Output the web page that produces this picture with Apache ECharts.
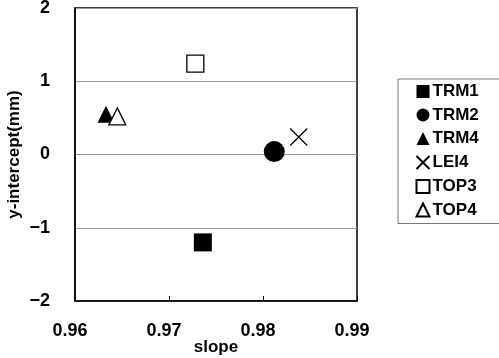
<!DOCTYPE html>
<html>
<head>
<meta charset="utf-8">
<script src="https://cdn.jsdelivr.net/npm/echarts@6/dist/echarts.min.js"></script>
<style>
  html, body { margin: 0; padding: 0; background: #fff; }
  #chart { width: 499px; height: 358px; }
</style>
</head>
<body>
<div id="chart"></div>
<script>
// 数据
var names = ["TRM1", "TRM2", "TRM4", "LEI4", "TOP3", "TOP4"];
var slopes = [0.9736, 0.9812, 0.9633, 0.9838, 0.9728, 0.9645];
var intercepts = [-1.2, 0.04, 0.55, 0.24, 1.24, 0.52];
var xTicks = [0.96, 0.97, 0.98, 0.99];
var yTicks = [-2, -1, 0, 1, 2];

var crossPath = "path://M0,0L10,10M10,0L0,10";
var styles = [
  { symbol: "rect", size: 18, fill: "#000" },
  { symbol: "circle", size: 21, fill: "#000" },
  { symbol: "triangle", size: 17, fill: "#000" },
  { symbol: crossPath, size: 17, fill: "none" },
  { symbol: "rect", size: 17, fill: "#fff" },
  { symbol: "triangle", size: 17, fill: "#fff" }
];

var font = "Liberation Sans";
var series = names.map(function (n, i) {
  var s = styles[i];
  return {
    name: n,
    type: "scatter",
    symbol: s.symbol,
    symbolSize: s.size,
    data: [[slopes[i], intercepts[i]]],
    itemStyle: {
      color: s.fill,
      opacity: 1,
      borderColor: "#000",
      borderWidth: s.fill === "#000" ? 0 : 1.3
    },
    z: 5
  };
});

var chart = echarts.init(document.getElementById("chart"));
chart.setOption({
  animation: false,
  grid: {
    left: 75, right: 142, top: 8, bottom: 57,
    containLabel: false, outerBoundsMode: "none",
    show: true, borderColor: "#000", borderWidth: 1.5, backgroundColor: "#fff"
  },
  legend: {
    orient: "vertical",
    left: 398, top: 79,
    padding: [4, 30, 5, 16],
    itemGap: 6.5,
    itemWidth: 13, itemHeight: 13,
    backgroundColor: "#fff",
    borderColor: "#777", borderWidth: 1, borderRadius: 0,
    data: names,
    textStyle: { fontFamily: font, fontWeight: "bold", fontSize: 17, color: "#000", padding: [0, 0, 0, -2] }
  },
  xAxis: {
    type: "value",
    min: xTicks[0], max: xTicks[xTicks.length - 1], interval: 0.01,
    name: "slope", nameLocation: "middle", nameGap: 38, nameMoveOverlap: false,
    nameTextStyle: { fontFamily: font, fontWeight: "bold", fontSize: 17, color: "#000" },
    axisLine: { onZero: false, lineStyle: { color: "#000", width: 1.5 } },
    axisTick: { inside: true, length: 5, lineStyle: { color: "#000" } },
    splitLine: { show: false },
    axisLabel: {
      margin: 21, color: "#000", fontFamily: font, fontWeight: "bold", fontSize: 18,
      padding: [0, 10, 0, 0],
      formatter: function (v) { return v.toFixed(2); }
    }
  },
  yAxis: {
    type: "value",
    min: yTicks[0], max: yTicks[yTicks.length - 1], interval: 1,
    name: "y-intercept(mm)", nameLocation: "middle", nameGap: 52, nameMoveOverlap: false,
    nameTextStyle: { fontFamily: font, fontWeight: "bold", fontSize: 17, color: "#000" },
    axisLine: { onZero: false, lineStyle: { color: "#000", width: 1.5 } },
    axisTick: { show: false },
    splitLine: { lineStyle: { color: "#999", width: 1 } },
    axisLabel: {
      margin: 25, color: "#000", fontFamily: font, fontWeight: "bold", fontSize: 18,
      formatter: function (v) { return v < 0 ? "\u2212" + Math.abs(v) : String(v); }
    }
  },
  series: series
});
</script>
</body>
</html>
